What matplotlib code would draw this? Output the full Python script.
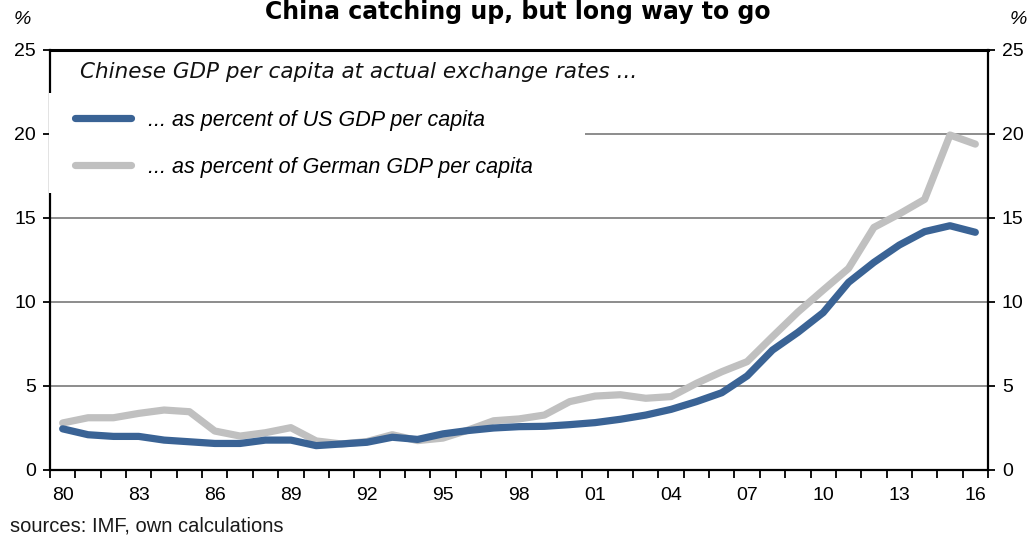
import numpy as np
import matplotlib
matplotlib.use('Agg')
import matplotlib.pyplot as plt
from matplotlib.patches import Rectangle

# data (percent)
years = [str(y)[-2:] for y in range(1980, 2017)]
us_share = [2.45, 2.1, 2.0, 2.0, 1.78, 1.68, 1.58, 1.58, 1.78, 1.78,
            1.45, 1.55, 1.65, 1.95, 1.82, 2.15, 2.35, 2.5, 2.58, 2.6,
            2.7, 2.82, 3.02, 3.27, 3.61, 4.07, 4.6, 5.6, 7.14, 8.19,
            9.37, 11.17, 12.36, 13.39, 14.19, 14.54, 14.15]
de_share = [2.8, 3.11, 3.11, 3.37, 3.57, 3.47, 2.32, 2.02, 2.22, 2.52,
            1.73, 1.55, 1.69, 2.1, 1.75, 1.9, 2.38, 2.93, 3.04, 3.27,
            4.07, 4.4, 4.48, 4.27, 4.37, 5.16, 5.85, 6.45, 7.94, 9.4,
            10.71, 12.0, 14.44, 15.24, 16.11, 19.94, 19.4]
y_ticks = [0, 5, 10, 15, 20, 25]

blue = '#3a6395'
grey = '#c0c0c0'
tick_font = 'Liberation Sans'

fig = plt.figure(figsize=(10.35, 5.4), dpi=100)
ax = fig.add_axes([50 / 1035, 1 - 470 / 540, 938 / 1035, 420 / 540])

x = np.arange(len(years))
ax.plot(x, de_share, color=grey, lw=5.2, solid_capstyle='round', zorder=3,
        label='... as percent of German GDP per capita')
ax.plot(x, us_share, color=blue, lw=5.2, solid_capstyle='round', zorder=4,
        label='... as percent of US GDP per capita')

ax.set_xlim(-0.5, len(years) - 0.5)
ax.set_ylim(0, 25)

# horizontal gridlines
for v in y_ticks[1:-1]:
    ax.axhline(v, color='#8c8c8c', lw=1.4, zorder=1)

for s in ax.spines.values():
    s.set_color('black')
    s.set_linewidth(1.6)
ax.spines['top'].set_linewidth(2.2)

ax.set_yticks(y_ticks)
ax.tick_params(axis='y', which='both', direction='out', length=5, width=1.3,
               left=True, right=True, labelleft=True, labelright=True,
               labelsize=14, pad=5)
ax.set_xticks(x[::3])
ax.set_xticklabels(years[::3])
ax.set_xticks(np.arange(-0.5, len(years), 1), minor=True)
ax.tick_params(axis='x', which='major', length=0, pad=12, labelsize=14)
ax.tick_params(axis='x', which='minor', direction='out', length=6, width=1.3)
for lab in ax.get_xticklabels():
    lab.set_fontfamily(tick_font)
for t in ax.yaxis.get_major_ticks():
    t.label1.set_fontfamily(tick_font)
    t.label2.set_fontfamily(tick_font)

# white legend box, it hides part of the left spine and the 20% gridline
ax.add_patch(Rectangle((-1.5 / 938, (470 - 193) / 420), (585 - 48.5) / 938, 100 / 420,
                       transform=ax.transAxes, facecolor='white',
                       edgecolor='none', zorder=2.6, clip_on=False))

h, l = ax.get_legend_handles_labels()
leg = ax.legend(h[::-1], l[::-1], loc='upper left',
                bbox_to_anchor=(14 / 938, (470 - 99) / 420),
                borderaxespad=0, frameon=False,
                handlelength=2.6, handletextpad=0.8, borderpad=0.5,
                labelspacing=1.2,
                prop={'family': tick_font, 'style': 'italic', 'size': 15.5})
for lh in leg.get_lines():
    lh.set_linewidth(5.2)
    lh.set_solid_capstyle('round')
leg.set_zorder(6)

ax.text(30 / 938, (470 - 72) / 420,
        'Chinese GDP per capita at actual exchange rates ...',
        transform=ax.transAxes, ha='left', va='center', fontsize=15.5,
        style='italic', family='DejaVu Sans', color='#111111', zorder=10)

fig.text(518 / 1035, 1.0, 'China catching up, but long way to go',
         ha='center', va='top', fontsize=17, fontweight='bold',
         family='DejaVu Sans')
fig.text(22 / 1035, 1 - 20 / 540, '%', ha='center', va='center',
         fontsize=14, style='italic', family=tick_font)
fig.text(1018 / 1035, 1 - 20 / 540, '%', ha='center', va='center',
         fontsize=14, style='italic', family=tick_font)
fig.text(10 / 1035, 1 - 526 / 540, 'sources: IMF, own calculations',
         ha='left', va='center', fontsize=14.5, family=tick_font,
         color='#1a1a1a')

fig.savefig('out.png', dpi=100)
